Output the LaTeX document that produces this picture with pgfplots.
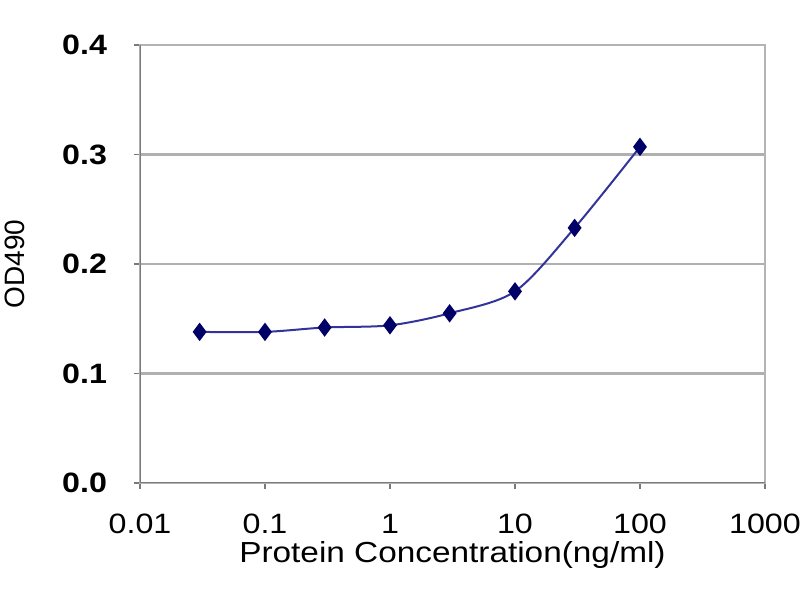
\documentclass[border=0pt]{standalone}
\usepackage{pgfplots}
\pgfplotsset{compat=1.18}
\usepackage{fontspec}
\setmainfont{Liberation Sans}
\newfontfamily\widefont[FakeStretch=1.15]{Liberation Sans}
\definecolor{navy}{HTML}{000066}
\definecolor{linecol}{HTML}{33339A}
\definecolor{framedark}{HTML}{7A7A7A}
\definecolor{framelight}{HTML}{B4B4B4}
\definecolor{gridcol}{HTML}{B0B0B0}
\begin{document}
\begin{tikzpicture}
\path[use as bounding box] (-70pt,-58.5pt) rectangle (330pt,241.5pt);
\begin{semilogxaxis}[
    scale only axis,
    width=312.5pt, height=219pt,
    xmin=0.01, xmax=1000,
    ymin=0, ymax=0.4,
    xtick={0.01,0.1,1,10,100,1000},
    xticklabels={0.01,0.1,1,10,100,1000},
    ytick={0,0.1,0.2,0.3,0.4},
    yticklabels={0.0,0.1,0.2,0.3,0.4},
    xminorticks=false,
    tick pos=left,
    tick align=outside,
    major tick length=3pt,
    tick style={framedark, line width=0.8pt},
    ymajorgrids,
    grid style={gridcol, line width=1.2pt},
    axis line style={framelight, line width=1.2pt},
    font=\widefont\fontsize{14}{16}\selectfont,
    xticklabel style={yshift=-9pt},
    yticklabel style={font=\widefont\fontsize{14}{16}\selectfont\bfseries, xshift=-10pt},
    xlabel={Protein Concentration(ng/ml)},
    ylabel={OD490},
    xlabel style={font=\widefont\fontsize{14.5}{16}\selectfont, yshift=3pt},
    ylabel style={font=\fontsize{14}{16}\selectfont, yshift=12pt},
]
\addplot[linecol, line width=1pt, smooth, mark=diamond*, mark size=3.8pt,
    mark options={navy, fill=navy}]
coordinates {
    (0.03,0.138)(0.1,0.138)(0.3,0.142)(1,0.144)
    (3,0.155)(10,0.175)(30,0.233)(100,0.307)};
\draw[framedark, line width=1.4pt] (rel axis cs:0,1) -- (rel axis cs:0,0) -- (rel axis cs:1,0);
\end{semilogxaxis}
\end{tikzpicture}
\end{document}
